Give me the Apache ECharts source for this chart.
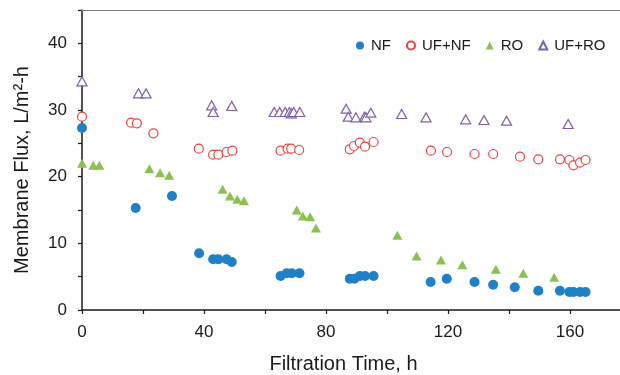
<!DOCTYPE html>
<html>
<head>
<meta charset="utf-8">
<script src="https://cdn.jsdelivr.net/npm/echarts@6/dist/echarts.min.js"></script>
<style>html,body{margin:0;padding:0;background:#fff}#c{width:620px;height:375px}</style>
</head>
<body>
<div id="c"></div>
<script>
const nfTime = [0, 17.6, 29.5, 38.4, 43.0, 44.7, 47.4, 49.1, 65.1, 67.1, 68.8, 71.3, 87.8, 89.3, 91.1, 92.8, 95.6, 114.3, 119.6, 128.7, 134.8, 141.9, 149.6, 156.7, 159.8, 161.1, 163.3, 165.1];
const nfFlux = [27.3, 15.3, 17.1, 8.5, 7.6, 7.6, 7.6, 7.2, 5.1, 5.5, 5.5, 5.5, 4.7, 4.7, 5.1, 5.1, 5.1, 4.2, 4.7, 4.2, 3.8, 3.4, 2.9, 2.9, 2.7, 2.7, 2.7, 2.7];
const ufnfTime = [0, 16.1, 18.0, 23.4, 38.3, 43.0, 44.7, 47.4, 49.3, 65.1, 67.4, 68.6, 71.2, 87.8, 89.2, 91.1, 92.8, 95.6, 114.4, 119.7, 128.7, 134.8, 143.6, 149.6, 156.7, 159.8, 161.1, 163.3, 165.1];
const ufnfFlux = [29.0, 28.1, 28.0, 26.5, 24.2, 23.3, 23.3, 23.7, 23.9, 23.9, 24.2, 24.2, 24.0, 24.1, 24.6, 25.1, 24.5, 25.2, 23.9, 23.7, 23.4, 23.4, 23.0, 22.6, 22.6, 22.5, 21.7, 22.1, 22.5];
const roTime = [0, 3.7, 5.7, 22.1, 25.6, 28.6, 46.1, 48.5, 50.9, 53.1, 70.4, 72.4, 74.8, 76.7, 103.4, 109.7, 117.7, 124.7, 135.7, 144.7, 154.8];
const roFlux = [22.0, 21.7, 21.7, 21.2, 20.6, 20.2, 18.1, 17.1, 16.6, 16.4, 15.0, 14.1, 14.0, 12.3, 11.2, 8.1, 7.5, 6.8, 6.1, 5.5, 4.9];
const ufroTime = [0, 18.5, 21.0, 42.5, 43.0, 49.1, 63.0, 64.8, 66.6, 68.0, 68.6, 69.4, 71.4, 86.6, 87.3, 89.8, 92.6, 93.1, 94.7, 104.8, 112.8, 125.8, 131.8, 139.2, 159.4];
const ufroFlux = [34.3, 32.5, 32.5, 30.7, 29.7, 30.6, 29.7, 29.7, 29.7, 29.7, 29.5, 29.7, 29.7, 30.2, 29.0, 28.9, 29.0, 28.9, 29.6, 29.4, 28.9, 28.6, 28.5, 28.4, 27.9];
const seriesNames = ['NF', 'UF+NF', 'RO', 'UF+RO'];
const xLabel = 'Filtration Time, h';
const yLabel = 'Membrane Flux, L/m\u00B2-h';
const yMax = 45;

const zip = (a, b) => a.map((v, i) => [v, b[i]]);
const FONT = 'Liberation Sans, Arial, sans-serif';
const chart = echarts.init(document.getElementById('c'), null, {renderer: 'canvas'});
chart.setOption({
  animation: false,
  backgroundColor: '#fff',
  grid: {left: 82, top: 10, width: 549, height: 300, containLabel: false, outerBoundsMode: 'none'},
  graphic: {elements: [{
    type: 'rect', silent: true, z: 100, left: 81, top: 10,
    shape: {width: 539, height: 1},
    style: {fill: '#7a7a7a'}
  }]},
  legend: {
    left: 356, top: 38, padding: 0, itemWidth: 8, itemHeight: 8, itemGap: 15,
    textStyle: {fontFamily: FONT, fontSize: 15, color: '#1a1a1a', padding: [0, 0, 0, 2]},
    data: seriesNames
  },
  xAxis: {
    type: 'value', min: 0, max: 180, interval: 20,
    name: xLabel, nameLocation: 'middle', nameGap: 44,
    nameTextStyle: {fontFamily: FONT, fontSize: 20, color: '#1a1a1a', padding: [0, 26, 0, 0]},
    axisLine: {lineStyle: {color: '#1a1a1a', width: 1.5}},
    axisTick: {length: 4, lineStyle: {color: '#1a1a1a', width: 1.2}},
    axisLabel: {fontFamily: FONT, fontSize: 17, color: '#1a1a1a', margin: 14,
      formatter: v => (v % 40 === 0 && v <= 160) ? String(v) : ''},
    splitLine: {show: false}
  },
  yAxis: {
    type: 'value', min: 0, max: yMax, interval: 5,
    name: yLabel, nameLocation: 'middle', nameGap: 50,
    nameTextStyle: {fontFamily: FONT, fontSize: 20, color: '#1a1a1a', padding: [0, 20, 0, 0]},
    axisLine: {lineStyle: {color: '#1a1a1a', width: 1.5}},
    axisTick: {length: 4, lineStyle: {color: '#1a1a1a', width: 1.2}},
    axisLabel: {fontFamily: FONT, fontSize: 17, color: '#1a1a1a', margin: 15,
      formatter: v => (v % 10 === 0 && v <= 40) ? String(v) : ''},
    splitLine: {show: false}
  },
  series: [
    {name: seriesNames[0], type: 'scatter', symbol: 'circle', symbolSize: 10,
      itemStyle: {color: '#1f80c6', opacity: 1}, data: zip(nfTime, nfFlux), z: 4,
      markLine: {silent: true, symbol: 'none', animation: false, label: {show: false},
        lineStyle: {color: '#7a7a7a', type: 'solid', width: 1}, data: [{yAxis: yMax}]}},
    {name: seriesNames[1], type: 'scatter', symbol: 'circle', symbolSize: 9,
      itemStyle: {color: '#ffffff', borderColor: '#e8453f', borderWidth: 1.2, opacity: 1}, data: zip(ufnfTime, ufnfFlux), z: 3},
    {name: seriesNames[2], type: 'scatter', symbol: 'triangle', symbolSize: [10, 9],
      itemStyle: {color: '#8cc152', opacity: 1}, data: zip(roTime, roFlux), z: 4},
    {name: seriesNames[3], type: 'scatter', symbol: 'triangle', symbolSize: [10, 9],
      itemStyle: {color: '#ffffff', borderColor: '#8060aa', borderWidth: 1.2, opacity: 1}, data: zip(ufroTime, ufroFlux), z: 3}
  ]
});
</script>
</body>
</html>
